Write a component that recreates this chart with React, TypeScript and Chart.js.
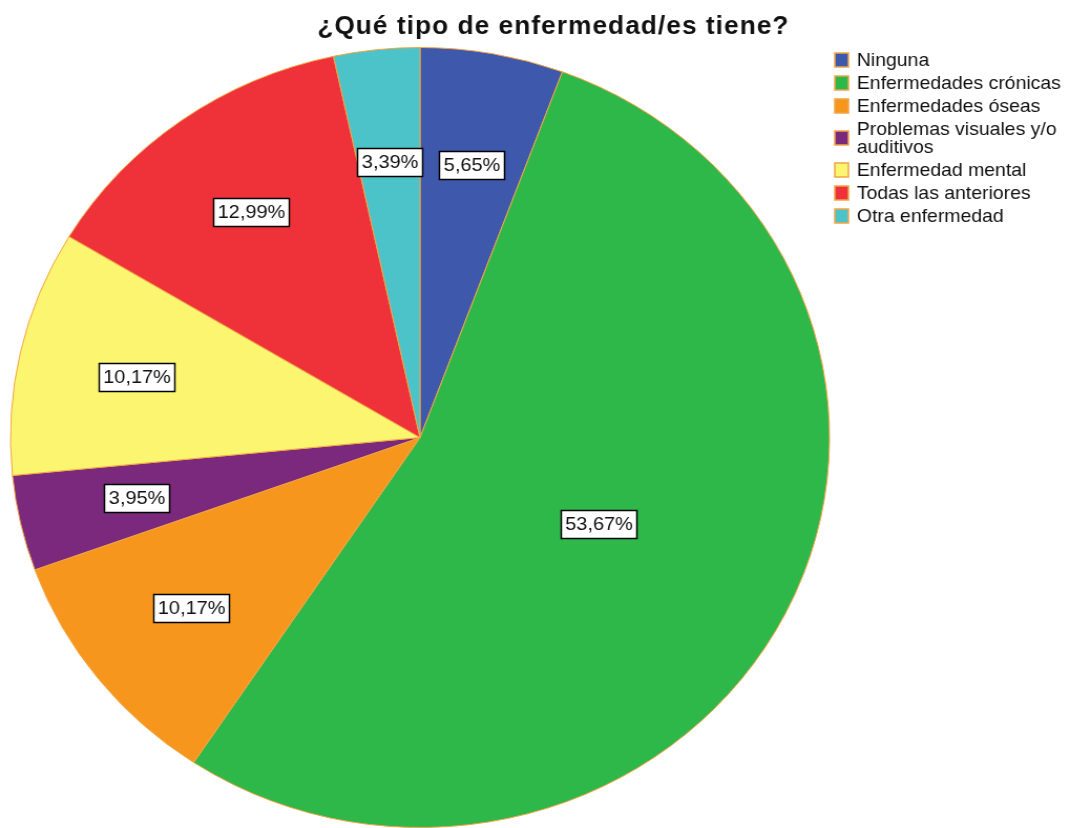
import React, { useEffect, useRef } from 'react';
import { Chart, registerables } from 'chart.js';

Chart.register(...registerables);

const chartTitle = '¿Qué tipo de enfermedad/es tiene?';
const categories = [
  'Ninguna',
  'Enfermedades crónicas',
  'Enfermedades óseas',
  'Problemas visuales y/o auditivos',
  'Enfermedad mental',
  'Todas las anteriores',
  'Otra enfermedad',
];
const legendLines = [
  ['Ninguna'],
  ['Enfermedades crónicas'],
  ['Enfermedades óseas'],
  ['Problemas visuales y/o', 'auditivos'],
  ['Enfermedad mental'],
  ['Todas las anteriores'],
  ['Otra enfermedad'],
];
const counts = [10, 95, 18, 7, 18, 23, 6];
const sliceColors = ['#3e58ac', '#2fb84a', '#f7961d', '#7b297c', '#fbf56f', '#ef3239', '#4bc3c9'];
const edgeColor = '#f2a445';

const CANVAS_W = 1019;
const CANVAS_H = 828;
const FONT = '"Liberation Sans", Arial, Helvetica, sans-serif';

const pct = (v: number, total: number) => ((v / total) * 100).toFixed(2).replace('.', ',') + '%';

const titlePlugin = {
  id: 'customTitle',
  afterDraw(chart: any) {
    const ctx = chart.ctx;
    ctx.save();
    ctx.font = `bold 25px ${FONT}`;
    (ctx as any).letterSpacing = '1px';
    ctx.fillStyle = '#111';
    ctx.textBaseline = 'alphabetic';
    ctx.textAlign = 'left';
    const w = ctx.measureText(chartTitle).width;
    ctx.fillText(chartTitle, 527 - w / 2, 34);
    ctx.restore();
  },
};

const legendPlugin = {
  id: 'customLegend',
  afterDraw(chart: any) {
    const ctx = chart.ctx;
    ctx.save();
    ctx.font = `18.5px ${FONT}`;
    ctx.textBaseline = 'middle';
    ctx.textAlign = 'left';
    let y = 60;
    legendLines.forEach((lines, i) => {
      const boxH = 14;
      const boxW = 13;
      const cy = y + ((lines.length - 1) * 18) / 2;
      ctx.fillStyle = sliceColors[i];
      ctx.fillRect(795, cy - boxH / 2, boxW, boxH);
      ctx.strokeStyle = edgeColor;
      ctx.lineWidth = 1.5;
      ctx.strokeRect(795, cy - boxH / 2, boxW, boxH);
      ctx.fillStyle = '#111';
      lines.forEach((ln, j) => {
        ctx.fillText(ln, 816, y + j * 18 + 1);
      });
      y += 23 + (lines.length - 1) * 18;
    });
    ctx.restore();
  },
};

const sliceLabelPlugin = {
  id: 'sliceLabels',
  afterDatasetsDraw(chart: any) {
    const ctx = chart.ctx;
    const meta = chart.getDatasetMeta(0);
    const data = chart.data.datasets[0].data as number[];
    const total = data.reduce((a, b) => a + b, 0);
    ctx.save();
    ctx.font = `19px ${FONT}`;
    ctx.textBaseline = 'middle';
    ctx.textAlign = 'center';
    meta.data.forEach((arc: any, i: number) => {
      const { x, y, startAngle, endAngle, outerRadius } = arc.getProps(
        ['x', 'y', 'startAngle', 'endAngle', 'outerRadius'],
        true
      );
      const mid = (startAngle + endAngle) / 2;
      const frac = endAngle - startAngle > Math.PI ? 0.49 : 0.71;
      const lx = x + Math.cos(mid) * outerRadius * frac;
      const ly = y + Math.sin(mid) * outerRadius * frac;
      const text = pct(data[i], total);
      const w = Math.round(ctx.measureText(text).width + 8);
      const h = 28;
      const bx = Math.round(lx - w / 2);
      const by = Math.round(ly - h / 2);
      ctx.fillStyle = '#ffffff';
      ctx.fillRect(bx, by, w, h);
      ctx.strokeStyle = '#000';
      ctx.lineWidth = 1.5;
      ctx.strokeRect(bx + 0.5, by + 0.5, w, h);
      ctx.fillStyle = '#111';
      ctx.fillText(text, bx + w / 2 + 0.5, by + h / 2 + 1);
    });
    ctx.restore();
  },
};

export default function App() {
  const ref = useRef<HTMLCanvasElement | null>(null);
  useEffect(() => {
    if (!ref.current) return;
    const chart = new Chart(ref.current, {
      type: 'pie',
      data: {
        labels: categories,
        datasets: [
          {
            data: counts,
            backgroundColor: sliceColors,
            borderColor: edgeColor,
            borderWidth: 1,
            hoverOffset: 0,
            radius: 390,
          } as any,
        ],
      },
      options: {
        responsive: false,
        animation: false,
        events: [],
        layout: { padding: { left: 0, right: CANVAS_W - 800, top: 47, bottom: 0 } },
        plugins: {
          legend: { display: false },
          title: { display: false },
          tooltip: { enabled: false },
        },
      },
      plugins: [sliceLabelPlugin, legendPlugin, titlePlugin],
    });
    return () => chart.destroy();
  }, []);
  return (
    <div style={{ position: 'fixed', left: 0, top: 0, width: 1070, height: 828, background: '#fff' }}>
      <canvas
        ref={ref}
        width={CANVAS_W}
        height={CANVAS_H}
        style={{ width: '1070px', height: '828px', display: 'block' }}
      />
    </div>
  );
}
